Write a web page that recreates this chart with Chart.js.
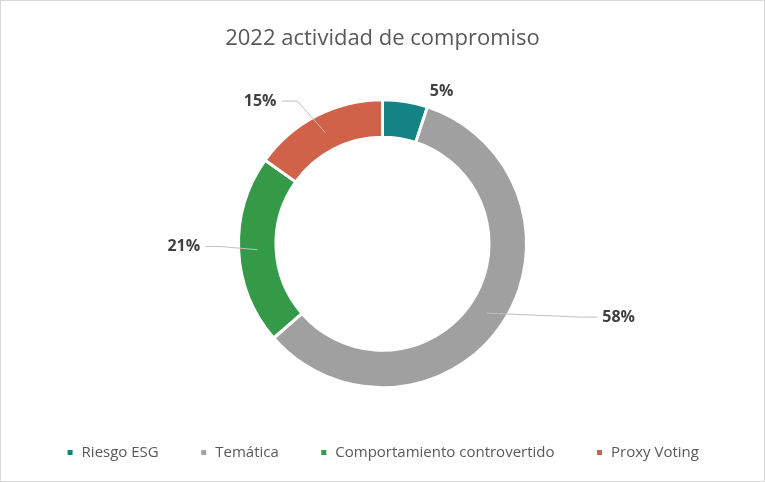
<!DOCTYPE html>
<html>
<head>
<meta charset="utf-8">
<script src="https://cdn.jsdelivr.net/npm/chart.js@4/dist/chart.umd.min.js"></script>
<style>
  html, body { margin: 0; padding: 0; background: #fff; }
  #wrap { width: 765px; height: 482px; box-sizing: border-box; border: 1px solid #d9d9d9; position: relative; }
  #c { display: block; }
</style>
</head>
<body>
<div id="wrap"><canvas id="c" width="763" height="480"></canvas></div>
<script>
  // chart data
  const categories = ["Riesgo ESG", "Temática", "Comportamiento controvertido", "Proxy Voting"];
  const shares = [5, 58, 21, 15];
  const colors = ["#138483", "#a0a0a0", "#359a48", "#d0624a"];

  // where each % label sits, as multiples of the outer radius from the centre
  const labelOffsets = [[0.41, -1.06], [1.64, 0.51], [-1.38, 0.02], [-0.85, -0.99]];
  const showLeader = [false, true, true, true];

  const leaderLabels = {
    id: 'leaderLabels',
    afterDatasetsDraw(chart) {
      const ctx = chart.ctx;
      const meta = chart.getDatasetMeta(0);
      ctx.save();
      ctx.font = 'bold 16px "Open Sans", sans-serif';
      ctx.textAlign = 'center';
      ctx.textBaseline = 'middle';
      meta.data.forEach((arc, i) => {
        const p = arc.getProps(['x', 'y', 'startAngle', 'endAngle', 'innerRadius', 'outerRadius'], true);
        const mid = (p.startAngle + p.endAngle) / 2;
        const r = (p.innerRadius + p.outerRadius) / 2;
        const ax = p.x + Math.cos(mid) * r;
        const ay = p.y + Math.sin(mid) * r;
        const lx = p.x + labelOffsets[i][0] * p.outerRadius;
        const ly = p.y + labelOffsets[i][1] * p.outerRadius;
        const txt = shares[i] + '%';
        const hw = ctx.measureText(txt).width / 2;
        if (showLeader[i]) {
          const side = lx > p.x ? -1 : 1;
          const ex = lx + side * (hw + 5);
          const elbow = ex + side * 16;
          ctx.strokeStyle = '#bfbfbf';
          ctx.lineWidth = 1;
          ctx.beginPath();
          ctx.moveTo(ax, ay);
          ctx.lineTo(elbow, ly);
          ctx.lineTo(ex, ly);
          ctx.stroke();
        }
        ctx.fillStyle = '#404040';
        ctx.fillText(txt, lx, ly);
      });
      ctx.restore();
    }
  };

  new Chart(document.getElementById('c'), {
    type: 'doughnut',
    data: {
      labels: categories,
      datasets: [{
        data: shares,
        backgroundColor: colors,
        borderColor: '#ffffff',
        borderWidth: 3,
        hoverOffset: 0
      }]
    },
    options: {
      responsive: false,
      animation: false,
      cutout: '74%',
      radius: 144,
      layout: { padding: { top: 0, bottom: 11 } },
      plugins: {
        title: {
          display: true,
          text: '2022 actividad de compromiso',
          color: '#595959',
          font: { family: '"Open Sans", sans-serif', size: 22, weight: 'normal' },
          padding: { top: 25, bottom: 31 }
        },
        legend: {
          position: 'bottom',
          labels: {
            color: '#595959',
            font: { family: '"Open Sans", sans-serif', size: 15 },
            boxWidth: 8,
            boxHeight: 8,
            padding: 41
          }
        },
        tooltip: { enabled: false }
      }
    },
    plugins: [leaderLabels]
  });
</script>
</body>
</html>
